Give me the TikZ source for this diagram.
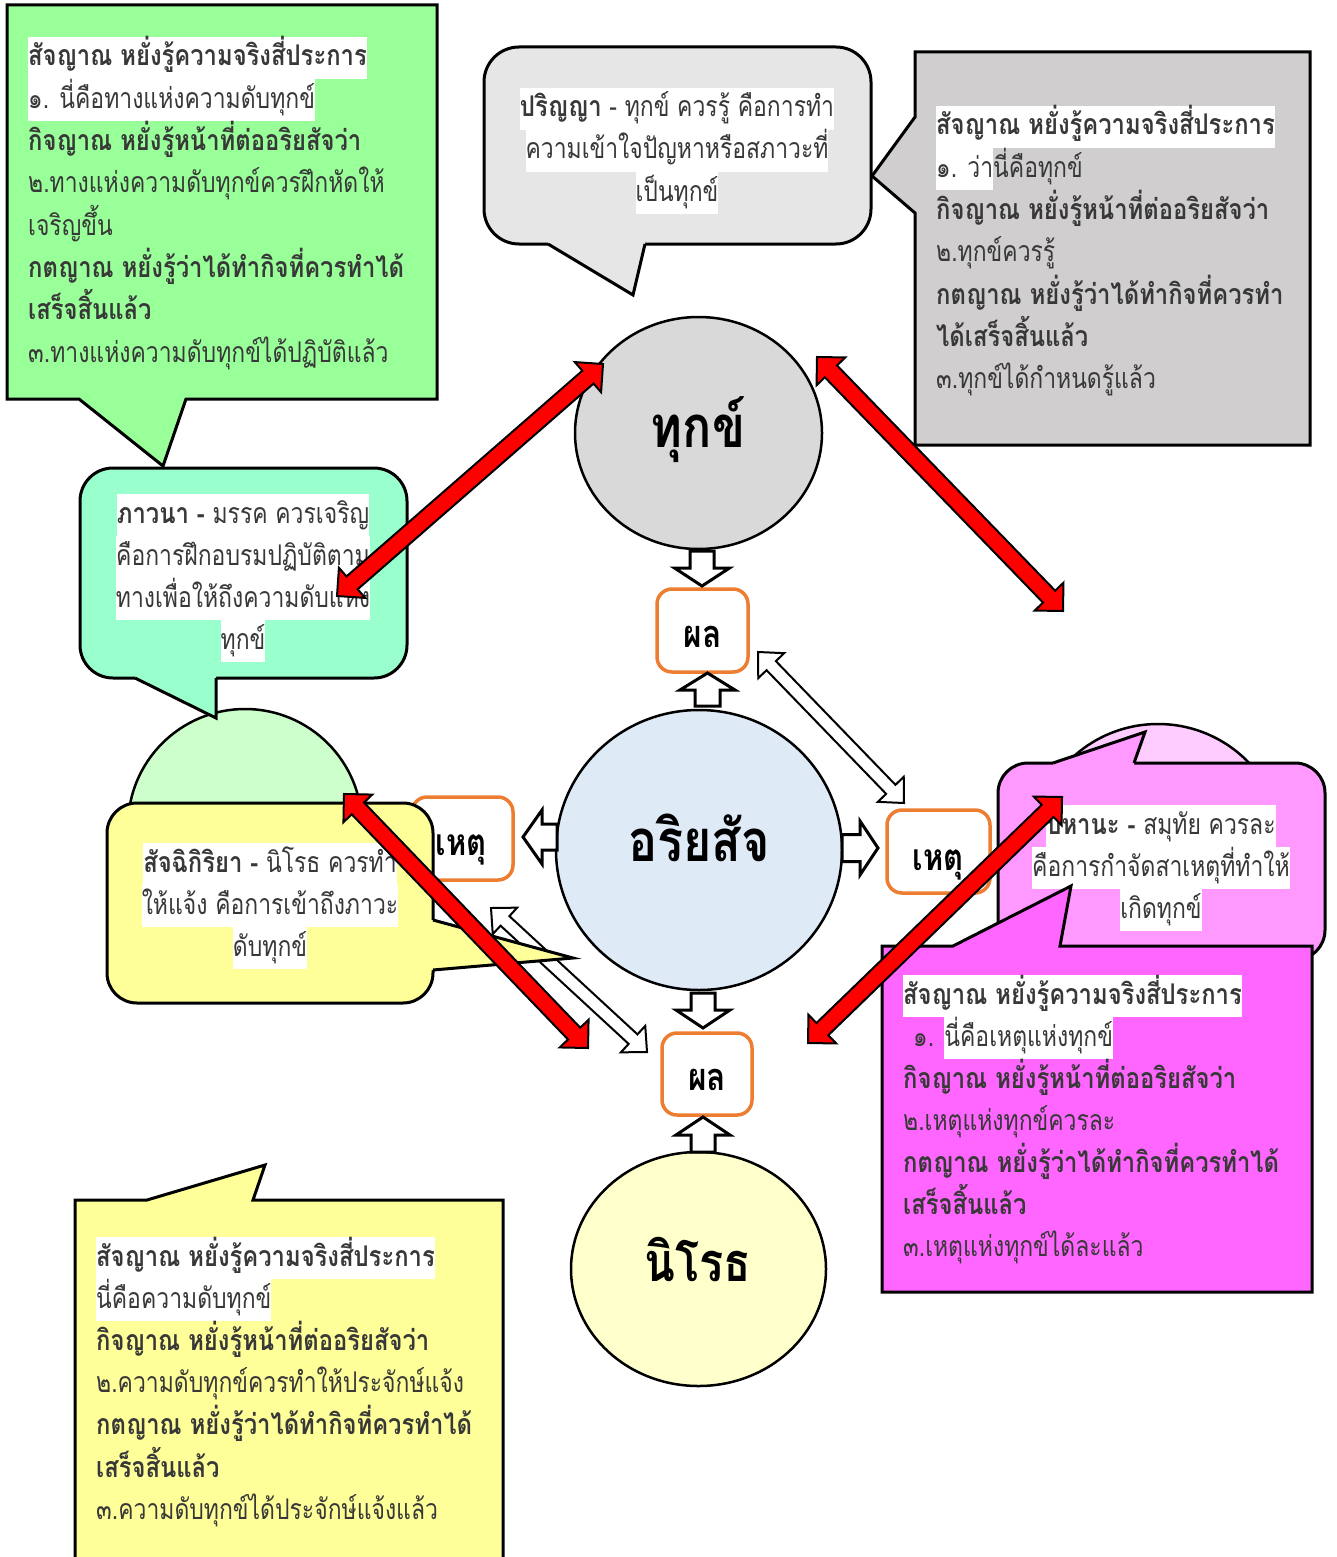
\documentclass[tikz,border=0pt]{standalone}
\usepackage{fontspec}
\setmainfont{Loma}[Script=Thai,UprightFeatures={FakeStretch=0.805},BoldFeatures={FakeStretch=0.835}]
\usetikzlibrary{calc,shapes.geometric}
\definecolor{cgreen}{HTML}{99FF99}
\definecolor{cgrayA}{HTML}{E7E6E6}
\definecolor{cgrayB}{HTML}{D0CECE}
\definecolor{cteal}{HTML}{99FFCC}
\definecolor{clgreen}{HTML}{CCFFCC}
\definecolor{cyellow}{HTML}{FFFF99}
\definecolor{clpink}{HTML}{FFCCFF}
\definecolor{cpink}{HTML}{FF99FF}
\definecolor{cmag}{HTML}{FF66FF}
\definecolor{cdukkha}{HTML}{D9D9D9}
\definecolor{cariya}{HTML}{DEEBF7}
\definecolor{cnirodh}{HTML}{FFFFCC}
\definecolor{corange}{HTML}{ED7D31}
\definecolor{ctext}{HTML}{383838}
\newcommand\fs{\fontsize{28.5}{42}\selectfont}
\newcommand\hl[1]{{\fboxsep=0pt\colorbox{white}{\rule[-12.6pt]{0pt}{42pt}#1}}}
% tail of a rounded callout: fill, base1, tip, base2, inward offset
\newcommand\tail[5]{%
  \fill[#1] ($(#2)+(#5)$) -- (#2) -- (#3) -- (#4) -- ($(#4)+(#5)$) -- cycle;
  \draw[co] (#2) -- (#3) -- (#4);}
% double-headed block arrow: A, B, head length, head half width, shaft half width, style
\newcommand\dblarrow[6]{%
  \draw[#6] (#1)
   -- ($(#1)!#3!(#2)!#4!90:(#2)$)
   -- ($(#1)!#3!(#2)!#5!90:(#2)$)
   -- ($(#2)!#3!(#1)!#5!-90:(#1)$)
   -- ($(#2)!#3!(#1)!#4!-90:(#1)$)
   -- (#2)
   -- ($(#2)!#3!(#1)!#4!90:(#1)$)
   -- ($(#2)!#3!(#1)!#5!90:(#1)$)
   -- ($(#1)!#3!(#2)!#5!-90:(#2)$)
   -- ($(#1)!#3!(#2)!#4!-90:(#2)$)
   -- cycle;}
% single block arrow: tail, tip, head length, head half width, shaft half width, style
\newcommand\blockarrow[6]{%
  \draw[#6] ($(#1)!#5!90:(#2)$)
   -- ($(#2)!#3!(#1)!#5!-90:(#1)$)
   -- ($(#2)!#3!(#1)!#4!-90:(#1)$)
   -- (#2)
   -- ($(#2)!#3!(#1)!#4!90:(#1)$)
   -- ($(#2)!#3!(#1)!#5!90:(#1)$)
   -- ($(#1)!#5!-90:(#2)$) -- cycle;}
\begin{document}
\begin{tikzpicture}[x=1pt,y=-1pt,
  co/.style={draw=black,line width=3pt,line join=miter},
  obox/.style={draw=corange,line width=3.5pt,rounded corners=15pt,fill=white,inner sep=0pt},
  bigell/.style={ellipse,draw=black,line width=2.5pt,inner sep=0pt},
  redarr/.style={fill=red,draw=black,line width=2pt,line join=miter},
  holarr/.style={fill=white,draw=black,line width=2pt,line join=miter},
  blkarr/.style={fill=white,draw=black,line width=3pt,line join=miter},
  txt/.style={inner sep=0pt,text=ctext,font=\fs},
  tl/.style={txt,anchor=base west},
  tc/.style={txt,anchor=base},
  lbl/.style={inner sep=0pt,text=black,anchor=base}]
\useasboundingbox (0,0) rectangle (1336,1557);
\clip (0,0) rectangle (1336,1557);

% ---------- green callout (top left)
\draw[co,fill=cgreen] (7,5) -- (437,5) -- (437,399) -- (186,399) -- (163,466) -- (79,399) -- (7,399) -- cycle;
\node[tl] (g1) at (28,66)    {\hl{\bfseries สัจญาณ หยั่งรู้ความจริงสี่ประการ}};
\node[tl] (g2) at (28,108.3) {\hl{๑. นี่คือทางแห่งความดับทุกข์}};
\node[tl] (g3) at (28,150.6) {\bfseries กิจญาณ หยั่งรู้หน้าที่ต่ออริยสัจว่า};
\node[tl] (g4) at (28,192.9) {๒.ทางแห่งความดับทุกข์ควรฝึกหัดให้};
\node[tl] (g5) at (28,235.2) {เจริญขึ้น};
\node[tl] (g6) at (28,277.5) {\bfseries กตญาณ หยั่งรู้ว่าได้ทำกิจที่ควรทำได้};
\node[tl] (g7) at (28,319.8) {\bfseries เสร็จสิ้นแล้ว};
\node[tl] (g8) at (28,362.1) {๓.ทางแห่งความดับทุกข์ได้ปฏิบัติแล้ว};

% ---------- grey rounded callout (top middle)
\draw[co,fill=cgrayA,rounded corners=35pt] (484,47) rectangle (871,244);
\tail{cgrayA}{548,244}{633,295}{645,244}{0,-2.5}
\node[tc] (p1) at (677,117) {\hl{{\bfseries ปริญญา} - ทุกข์ ควรรู้ คือการทำ}};
\node[tc] (p2) at (677,159) {\hl{ความเข้าใจปัญหาหรือสภาวะที่}};
\node[tc] (p3) at (677,201) {\hl{เป็นทุกข์}};

% ---------- grey rectangular callout (top right)
\draw[co,fill=cgrayB] (915,52) -- (1310,52) -- (1310,445) -- (915,445) -- (915,213) -- (872,176) -- (915,117) -- cycle;
\node[tl] (d1) at (936,135)   {\hl{\bfseries สัจญาณ หยั่งรู้ความจริงสี่ประการ}};
\node[tl] (d2) at (936,177.3) {\hl{๑. ว่า}นี่คือทุกข์};
\node[tl] (d3) at (936,219.6) {\bfseries กิจญาณ หยั่งรู้หน้าที่ต่ออริยสัจว่า};
\node[tl] (d4) at (936,261.9) {๒.ทุกข์ควรรู้};
\node[tl] (d5) at (936,304.2) {\bfseries กตญาณ หยั่งรู้ว่าได้ทำกิจที่ควรทำ};
\node[tl] (d6) at (936,346.5) {\bfseries ได้เสร็จสิ้นแล้ว};
\node[tl] (d7) at (936,388.8) {๓.ทุกข์ได้กำหนดรู้แล้ว};

% ---------- background ellipses
\node[bigell,fill=clgreen,minimum width=234pt,minimum height=234pt] (egreen) at (245,826) {};
\node[bigell,fill=clpink,minimum width=252pt,minimum height=252pt] (epink) at (1158,850) {};

% ---------- main circles
\node[bigell,fill=cdukkha,minimum width=247pt,minimum height=232pt] (dukkha) at (698.5,433) {};
\node[lbl,font=\fontsize{58}{60}\selectfont\bfseries] (tdukkha) at (698,447) {ทุกข์};
\node[bigell,fill=cariya,minimum width=286pt,minimum height=280pt] (ariya) at (699,850) {};
\node[lbl,font=\fontsize{58}{60}\selectfont\bfseries] (tariya) at (699,861) {อริยสัจ};
\node[bigell,fill=cnirodh,minimum width=255pt,minimum height=234pt] (nirodh) at (698.5,1269) {};
\node[lbl,font=\fontsize{54}{60}\selectfont\bfseries] (tnirodh) at (698,1281) {นิโรธ};

% ---------- orange boxes
\node[obox,minimum width=91pt,minimum height=83pt] (phalA) at (702.5,630.5) {};
\node[lbl,font=\fontsize{38}{40}\selectfont\bfseries] (tphalA) at (702.5,647) {ผล};
\node[obox,minimum width=90pt,minimum height=82pt] (phalB) at (707,1074) {};
\node[lbl,font=\fontsize{38}{40}\selectfont\bfseries] (tphalB) at (707,1090) {ผล};
\node[obox,minimum width=101pt,minimum height=83pt] (hetuL) at (462.5,838.5) {};
\node[lbl,font=\fontsize{37}{40}\selectfont\bfseries] (thetuL) at (461,855) {เหตุ};
\node[obox,minimum width=103pt,minimum height=83pt] (hetuR) at (938.5,851.5) {};
\node[lbl,font=\fontsize{37}{40}\selectfont\bfseries] (thetuR) at (938,870) {เหตุ};

% ---------- block arrows
\coordinate (b1s) at (702,551);  \coordinate (b1e) at (702,586);
\coordinate (b2s) at (707.5,706); \coordinate (b2e) at (707.5,673);
\coordinate (b3s) at (557,837);  \coordinate (b3e) at (523,837);
\coordinate (b4s) at (842,848);  \coordinate (b4e) at (878,848);
\coordinate (b5s) at (703,993);  \coordinate (b5e) at (703,1028);
\coordinate (b6s) at (703,1152); \coordinate (b6e) at (703,1117);
\blockarrow{b1s}{b1e}{18pt}{27.5pt}{12pt}{blkarr}
\blockarrow{b2s}{b2e}{17pt}{27.5pt}{12.5pt}{blkarr}
\blockarrow{b3s}{b3e}{19pt}{27pt}{13pt}{blkarr}
\blockarrow{b4s}{b4e}{18pt}{27pt}{13.5pt}{blkarr}
\blockarrow{b5s}{b5e}{18pt}{27pt}{12pt}{blkarr}
\blockarrow{b6s}{b6e}{18pt}{27pt}{12pt}{blkarr}

% ---------- hollow double arrows
\coordinate (h1a) at (758,652); \coordinate (h1b) at (904,803);
\coordinate (h2a) at (491,908); \coordinate (h2b) at (647,1052);
\dblarrow{h1a}{h1b}{19pt}{18pt}{6.5pt}{holarr}
\dblarrow{h2a}{h2b}{19pt}{18pt}{6.5pt}{holarr}

% ---------- teal callout (bhavana)
\draw[co,fill=cteal,rounded corners=33pt] (80,468) rectangle (407,678);
\tail{cteal}{135,678}{216,718}{216,678}{0,-2.5}
\node[tc] (v1) at (243,523) {\hl{{\bfseries ภาวนา -} มรรค ควรเจริญ}};
\node[tc] (v2) at (243,565) {\hl{คือการฝึกอบรมปฏิบัติตาม}};
\node[tc] (v3) at (243,607) {\hl{ทางเพื่อให้ถึงความดับแห่ง}};
\node[tc] (v4) at (243,649) {\hl{ทุกข์}};

% ---------- yellow rounded callout (sacchikiriya)
\draw[co,fill=cyellow,rounded corners=30pt] (107,803) rectangle (433,1003);
\tail{cyellow}{433,920}{573,958}{433,970}{-2.5,0}
\node[tc] (s1) at (270,872) {\hl{{\bfseries สัจฉิกิริยา -} นิโรธ ควรทำ}};
\node[tc] (s2) at (270,914) {\hl{ให้แจ้ง คือการเข้าถึงภาวะ}};
\node[tc] (s3) at (270,956) {\hl{ดับทุกข์}};

% ---------- pink rounded callout (pahana)
\draw[co,fill=cpink,rounded corners=30pt] (998,763) rectangle (1325,960);
\tail{cpink}{1053,763}{1145,732}{1134,763}{0,2.5}
\node[tc] (q1) at (1161,834) {\hl{{\bfseries ปหานะ -} สมุทัย ควรละ}};
\node[tc] (q2) at (1161,876) {\hl{คือการกำจัดสาเหตุที่ทำให้}};
\node[tc] (q3) at (1161,918) {\hl{เกิดทุกข์}};

% ---------- magenta rectangular callout (bottom right)
\draw[co,fill=cmag] (882,946) -- (953,946) -- (1071,886) -- (1060,946) -- (1312,946) -- (1312,1292) -- (882,1292) -- cycle;
\node[tl] (m1) at (903,1004) {\hl{\bfseries สัจญาณ หยั่งรู้ความจริงสี่ประการ}};
\node[tl] (m2) at (913,1046) {๑. \hl{นี่คือเหตุแห่งทุกข์}};
\node[tl] (m3) at (903,1088) {\bfseries กิจญาณ หยั่งรู้หน้าที่ต่ออริยสัจว่า};
\node[tl] (m4) at (903,1130) {๒.เหตุแห่งทุกข์ควรละ};
\node[tl] (m5) at (903,1172) {\bfseries กตญาณ หยั่งรู้ว่าได้ทำกิจที่ควรทำได้};
\node[tl] (m6) at (903,1214) {\bfseries เสร็จสิ้นแล้ว};
\node[tl] (m7) at (903,1256) {๓.เหตุแห่งทุกข์ได้ละแล้ว};

% ---------- yellow rectangular callout (bottom left)
\draw[co,fill=cyellow] (75,1570) -- (75,1200) -- (147,1200) -- (265,1165) -- (253,1200) -- (503,1200) -- (503,1570) -- cycle;
\node[tl] (y1) at (96,1266)   {\hl{\bfseries สัจญาณ หยั่งรู้ความจริงสี่ประการ}};
\node[tl] (y2) at (96,1308.2) {\hl{นี่คือความดับทุกข์}};
\node[tl] (y3) at (96,1350.4) {\bfseries กิจญาณ หยั่งรู้หน้าที่ต่ออริยสัจว่า};
\node[tl] (y4) at (96,1392.6) {๒.ความดับทุกข์ควรทำให้ประจักษ์แจ้ง};
\node[tl] (y5) at (96,1434.8) {\bfseries กตญาณ หยั่งรู้ว่าได้ทำกิจที่ควรทำได้};
\node[tl] (y6) at (96,1477)   {\bfseries เสร็จสิ้นแล้ว};
\node[tl] (y7) at (96,1519.2) {๓.ความดับทุกข์ได้ประจักษ์แจ้งแล้ว};

% ---------- red double arrows
\coordinate (r1a) at (603,364);  \coordinate (r1b) at (337,596);
\coordinate (r2a) at (817,357);  \coordinate (r2b) at (1063,611);
\coordinate (r3a) at (344,794);  \coordinate (r3b) at (588,1048);
\coordinate (r4a) at (1062,797); \coordinate (r4b) at (808,1043);
\dblarrow{r1a}{r1b}{20pt}{20pt}{8.5pt}{redarr}
\dblarrow{r2a}{r2b}{20pt}{20pt}{8.5pt}{redarr}
\dblarrow{r3a}{r3b}{20pt}{20pt}{8.5pt}{redarr}
\dblarrow{r4a}{r4b}{20pt}{20pt}{8.5pt}{redarr}
\end{tikzpicture}
\end{document}
